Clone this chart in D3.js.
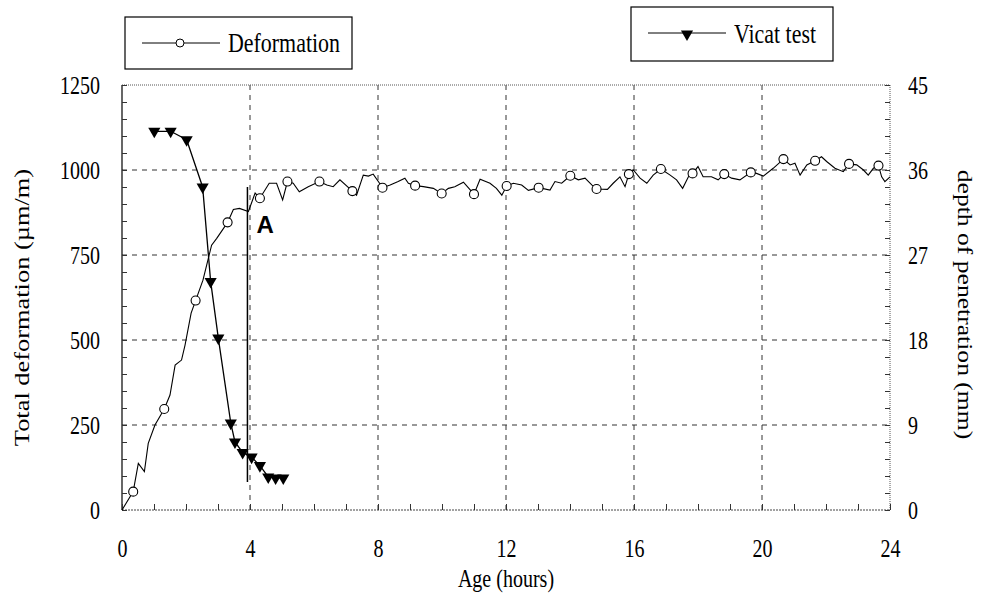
<!DOCTYPE html>
<html><head><meta charset="utf-8">
<script src="https://cdn.jsdelivr.net/npm/d3@7"></script>
<style>
body{margin:0;background:#fff;}
svg text{font-family:"Liberation Serif","Times New Roman",serif;fill:#000;}
</style></head>
<body><svg id="c" width="987" height="594"></svg>
<script>
// ---- data ----
const defHours = [0,0.35,0.51,0.70,0.82,1.03,1.32,1.5,1.66,1.86,1.97,2.16,2.30,2.53,2.8,2.96,3.3,3.48,3.67,3.95,4.16,4.31,4.6,4.83,5.02,5.17,5.35,5.54,5.82,6.17,6.4,6.6,6.81,7.2,7.33,7.54,7.7,7.85,8.01,8.14,8.38,8.63,8.84,8.95,9.16,9.42,9.73,9.99,10.2,10.4,10.67,11.0,11.19,11.5,11.7,11.87,12.02,12.23,12.49,12.7,13.02,13.375,13.53,13.74,14.01,14.26,14.47,14.68,14.83,15.17,15.35,15.56,15.72,15.84,15.98,16.19,16.4,16.6,16.84,17.13,17.33,17.52,17.7,17.83,18.0,18.16,18.42,18.63,18.82,19.05,19.31,19.65,19.83,20.04,20.35,20.67,20.88,21.03,21.19,21.4,21.66,21.86,22.02,22.28,22.54,22.72,22.96,23.17,23.32,23.48,23.64,23.74,23.84,24];
const defValues = [0,54,137,113,196,250,297,338,426,441,485,579,616,676,779,799,846,884,887,878,932,917,961,961,912,966,961,936,951,966,956,951,971,938,926,985,982,988,966,948,956,966,976,961,954,951,946,931,946,951,964,929,973,961,946,926,953,961,956,940,948,941,966,961,983,971,976,956,944,943,961,980,951,988,1000,976,961,985,1003,985,971,946,980,990,1010,980,980,971,988,976,971,993,990,982,1005,1032,1015,1020,985,1015,1027,1039,1025,1005,995,1018,1015,1000,985,1005,1013,980,966,980];
const defMarkHours = [0.35,1.32,2.30,3.3,4.31,5.17,6.17,7.2,8.14,9.16,9.99,11.0,12.02,13.02,14.01,14.83,15.84,16.84,17.83,18.82,19.65,20.67,21.66,22.72,23.64];
const defMarkValues = [54,297,616,846,917,966,966,938,948,954,931,929,953,948,983,944,988,1003,990,988,993,1032,1027,1018,1013];
const vicatHours = [1.01,1.52,2.02,2.52,2.77,3.01,3.4,3.53,3.77,4.05,4.31,4.57,4.8,5.04];
const vicatDepth = [40.1,40.1,39.2,34.2,24.2,18.2,9.2,7.2,6.1,5.6,4.7,3.5,3.4,3.4];
const xTicks = [0,4,8,12,16,20,24];
const yLeftTicks = [0,250,500,750,1000,1250];
const yRightTicks = [0,9,18,27,36,45];
const markerA = {hour:3.92, from:82, to:950, label:"A"};

// ---- layout ----
const svg = d3.select("#c");
const L=122, R=890, T=85, B=510;
const x = d3.scaleLinear().domain([0,24]).range([L,R]);
const yL = d3.scaleLinear().domain([0,1250]).range([B,T]);
const yR = d3.scaleLinear().domain([0,45]).range([B,T]);

function squeeze(sel, f){
  sel.each(function(){
    const w = this.getComputedTextLength();
    d3.select(this).attr("textLength", w*f).attr("lengthAdjust","spacingAndGlyphs");
  });
}

// grid
const g = svg.append("g");
g.selectAll(".hg").data(yLeftTicks.filter(d=>d>0&&d<1250)).join("line")
  .attr("x1",L).attr("x2",R).attr("y1",d=>yL(d)).attr("y2",d=>yL(d))
  .attr("stroke","#333").attr("stroke-width",1).attr("stroke-dasharray","5,5");
g.selectAll(".vg").data(xTicks.filter(d=>d>0&&d<24)).join("line")
  .attr("y1",T).attr("y2",B).attr("x1",d=>x(d)).attr("x2",d=>x(d))
  .attr("stroke","#333").attr("stroke-width",1).attr("stroke-dasharray","5,5");

// frame
g.append("line").attr("x1",L).attr("x2",R).attr("y1",T).attr("y2",T).attr("stroke","#555").attr("stroke-dasharray","1,1");
g.append("line").attr("x1",R).attr("x2",R).attr("y1",T).attr("y2",B).attr("stroke","#555").attr("stroke-dasharray","1,1");
g.append("line").attr("x1",L).attr("x2",R).attr("y1",B).attr("y2",B).attr("stroke","#444").attr("stroke-dasharray","2,1");
g.append("line").attr("x1",L).attr("x2",L).attr("y1",T).attr("y2",B).attr("stroke","#000").attr("stroke-width",1.2);

const FS = "26px", SQ = 0.77;
// axes
const xAx = d3.axisBottom(x).tickValues(d3.range(0,25,1)).tickSize(-6).tickFormat("");
svg.append("g").attr("transform",`translate(0,${B})`).call(xAx).call(a=>{a.select(".domain").remove();a.selectAll("line").attr("stroke","#333");});
const xLab = d3.axisBottom(x).tickValues(xTicks).tickSize(0).tickPadding(29).tickFormat(d3.format("d"));
svg.append("g").attr("transform",`translate(0,${B})`).call(xLab).call(a=>{a.select(".domain").remove();a.selectAll("text").style("font-size",FS).attr("font-family",null).call(squeeze,SQ);});

const yAxL = d3.axisLeft(yL).tickValues(d3.range(0,1251,50)).tickSize(-5).tickFormat("");
svg.append("g").attr("transform",`translate(${L},0)`).call(yAxL).call(a=>{a.select(".domain").remove();a.selectAll("line").attr("stroke","#333");});
const yLabL = d3.axisLeft(yL).tickValues(yLeftTicks).tickSize(0).tickPadding(22).tickFormat(d3.format("d"));
svg.append("g").attr("transform",`translate(${L},0)`).call(yLabL).call(a=>{a.select(".domain").remove();a.selectAll("text").style("font-size",FS).attr("font-family",null).call(squeeze,SQ);});

const yAxR = d3.axisRight(yR).tickValues(d3.range(0,45.01,1.8)).tickSize(-5).tickFormat("");
svg.append("g").attr("transform",`translate(${R},0)`).call(yAxR).call(a=>{a.select(".domain").remove();a.selectAll("line").attr("stroke","#333");});
const yLabR = d3.axisRight(yR).tickValues(yRightTicks).tickSize(0).tickPadding(18).tickFormat(d3.format("d"));
svg.append("g").attr("transform",`translate(${R},0)`).call(yLabR).call(a=>{a.select(".domain").remove();a.selectAll("text").style("font-size",FS).attr("font-family",null).call(squeeze,SQ);});

// axis titles
svg.append("text").attr("x",(L+R)/2).attr("y",587).attr("text-anchor","middle").style("font-size",FS).text("Age (hours)").call(squeeze,SQ);
svg.append("text").attr("transform",`translate(29,${(T+B)/2+10}) rotate(-90)`).attr("text-anchor","middle").style("font-size","20px").text("Total deformation (µm/m)").call(squeeze,1.32);
svg.append("text").attr("transform",`translate(958,${(T+B)/2+7}) rotate(90)`).attr("text-anchor","middle").style("font-size","20px").text("depth of penetration (mm)").call(squeeze,1.28);

// deformation line
const defPts = defHours.map((h,i)=>[h,defValues[i]]);
svg.append("path").datum(defPts).attr("fill","none").attr("stroke","#000").attr("stroke-width",1.1)
  .attr("d",d3.line().x(d=>x(d[0])).y(d=>yL(d[1])));
svg.selectAll(".dm").data(defMarkHours.map((h,i)=>[h,defMarkValues[i]])).join("circle")
  .attr("cx",d=>x(d[0])).attr("cy",d=>yL(d[1])).attr("r",4.5)
  .attr("fill","#fff").attr("stroke","#000").attr("stroke-width",1.1);

// vicat line
const vicPts = vicatHours.map((h,i)=>[h,vicatDepth[i]]);
svg.append("path").datum(vicPts).attr("fill","none").attr("stroke","#000").attr("stroke-width",1.3)
  .attr("d",d3.line().x(d=>x(d[0])).y(d=>yR(d[1])));
const tri = d3.symbol().type(d3.symbolTriangle).size(64);
svg.selectAll(".vm").data(vicPts).join("path")
  .attr("d",tri).attr("transform",d=>`translate(${x(d[0])},${yR(d[1])}) rotate(180)`).attr("fill","#000");

// marker A
svg.append("line").attr("x1",x(markerA.hour)).attr("x2",x(markerA.hour))
  .attr("y1",yL(markerA.to)).attr("y2",yL(markerA.from)).attr("stroke","#000").attr("stroke-width",1.5);
svg.append("text").attr("x",x(markerA.hour)+9).attr("y",233)
  .style("font-family","'Liberation Sans',Arial,sans-serif").style("font-weight","bold").style("font-size","24px").text(markerA.label);

// legends
const lg1 = svg.append("g");
lg1.append("rect").attr("x",125).attr("y",17).attr("width",227).attr("height",52).attr("fill","#fff").attr("stroke","#000").attr("stroke-width",1.2);
lg1.append("line").attr("x1",142).attr("x2",220).attr("y1",43).attr("y2",43).attr("stroke","#000");
lg1.append("circle").attr("cx",180).attr("cy",43).attr("r",4).attr("fill","#fff").attr("stroke","#000");
lg1.append("text").attr("x",228).attr("y",52).style("font-size","28px").text("Deformation").attr("textLength",112).attr("lengthAdjust","spacingAndGlyphs");

const lg2 = svg.append("g");
lg2.append("rect").attr("x",631).attr("y",7).attr("width",202).attr("height",54).attr("fill","#fff").attr("stroke","#000").attr("stroke-width",1.2);
lg2.append("line").attr("x1",648).attr("x2",726).attr("y1",33).attr("y2",33).attr("stroke","#000");
lg2.append("path").attr("d",tri).attr("transform","translate(687,34) rotate(180)").attr("fill","#000");
lg2.append("text").attr("x",734).attr("y",43).style("font-size","28px").text("Vicat test").attr("textLength",82).attr("lengthAdjust","spacingAndGlyphs");
</script></body></html>
